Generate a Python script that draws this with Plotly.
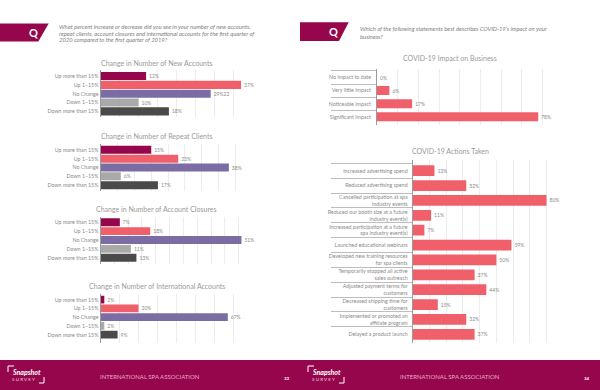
import plotly.graph_objects as go

W, H = 600, 390
FONT = "Lato"
MAROON = "#96064c"

change_cats = ["Up more than 15%", "Up 1–15%", "No Change", "Down 1–15%", "Down more than 15%"]
change_colors = [MAROON, "#f0606a", "#7b6ca3", "#a9a9a9", "#4a4a4a"]

new_accounts = [12, 37, 29, 10, 18]
new_accounts_text = ["12%", "37%", "29%22", "10%", "18%"]
repeat_clients = [15, 23, 38, 6, 17]
repeat_clients_text = ["15%", "23%", "38%", "6%", "17%"]
closures = [7, 18, 51, 11, 13]
closures_text = ["7%", "18%", "51%", "11%", "13%"]
international = [2, 20, 67, 2, 9]
international_text = ["2%", "20%", "67%", "2%", "9%"]

impact_cats = ["No impact to date", "Very little impact", "Noticeable impact", "Significant impact"]
impact_vals = [0, 6, 17, 78]
impact_text = ["0%", "6%", "17%", "78%"]

action_cats = [
    "Increased advertising spend", "Reduced advertising spend",
    "Cancelled participation at spa<br>industry events",
    "Reduced our booth size at a future<br>industry event(s)",
    "Increased participation at a future<br>spa industry event(s)",
    "Launched educational webinars",
    "Developed new training resources<br>for spa clients",
    "Temporarily stopped all active<br>sales outreach",
    "Adjusted payment terms for<br>customers",
    "Decreased shipping time for<br>customers",
    "Implemented or promoted an<br>affiliate program",
    "Delayed a product launch",
]
action_vals = [13, 32, 80, 11, 7, 59, 50, 37, 44, 15, 32, 37]
action_text = ["13%", "32%", "80%", "11%", "7%", "59%", "50%", "37%", "44%", "15%", "32%", "37%"]

left_question = [
    "What percent increase or decrease did you see in your number of new accounts,",
    "repeat clients, account closures and international accounts for the first quarter of",
    "2020 compared to the first quarter of 2019?",
]
right_question = [
    "Which of the following statements best describes COVID-19’s impact on your",
    "business?",
]


def px(x):
    return x / W


def py(y):
    return 1 - y / H


fig = go.Figure()
axis_specs = [
    # cats, vals, text, colors, x0, x1, top, bottom, xmax, dtick, yrange, bargap, ticklen, standoff
    (change_cats, new_accounts, new_accounts_text, change_colors, 100.5, 252.5, 70.3, 117.1, 40, 5, [4.65, -0.65], 0.08, 0, 0),
    (change_cats, repeat_clients, repeat_clients_text, change_colors, 100.5, 252.5, 144.1, 190.9, 45, 5, [4.65, -0.65], 0.1, 0, 0),
    (change_cats, closures, closures_text, change_colors, 100.5, 252.5, 216.5, 263.5, 55, 5, [4.65, -0.65], 0.1, 0, 0),
    (change_cats, international, international_text, change_colors, 100.5, 252.5, 294, 343, 80, 10, [4.95, -0.65], 0.12, 0, 0),
    (impact_cats, impact_vals, impact_text, ["#f0606a"] * 4, 377, 563, 69.4, 124.9, 90, 10, [3.62, -0.62], 0.31, 45, 4),
    (action_cats, action_vals, action_text, ["#f0606a"] * 12, 412.7, 563.3, 160.3, 343.2, 90, 10, [11.6, -0.7], 0.28, 81, 3),
]

layout_axes = {}
for i, (cats, vals, text, colors, x0, x1, top, bottom, xmax, dtick, yrange, gap, ticklen, standoff) in enumerate(axis_specs, 1):
    s = "" if i == 1 else str(i)
    fig.add_trace(go.Bar(
        x=vals, y=cats, orientation="h", text=text, textposition="outside",
        textfont=dict(size=5, color="#8a8a8a", family=FONT), cliponaxis=False,
        marker=dict(color=colors, line=dict(width=0)), width=1 - gap,
        hoverinfo="skip", xaxis=f"x{s}", yaxis=f"y{s}",
    ))
    layout_axes[f"xaxis{s}"] = dict(
        domain=[px(x0), px(x1)], anchor=f"y{s}", range=[0, xmax], dtick=dtick,
        showgrid=True, gridcolor="#ececec", gridwidth=1, showticklabels=False,
        zeroline=False, ticks="", showline=False,
    )
    yaxis = dict(
        domain=[py(bottom), py(top)], anchor=f"x{s}", type="category", range=yrange,
        categoryorder="array", categoryarray=cats, dtick=1, automargin=False,
        showline=True, linecolor="#9a9a9a", linewidth=1, showgrid=False, zeroline=False,
        tickfont=dict(size=5.3, color="#8a8a8a", family=FONT),
    )
    if ticklen:
        yaxis.update(ticks="outside", tickson="boundaries", ticklen=ticklen, tickcolor="#bdbdbd",
                     tickwidth=1, ticklabelstandoff=standoff)
    else:
        yaxis.update(ticks="")
    layout_axes[f"yaxis{s}"] = yaxis

shapes = []
annotations = []


def note(x, y, text, size, color, anchor="center", family=FONT):
    annotations.append(dict(
        xref="paper", yref="paper", x=px(x), y=py(y), text=text, showarrow=False,
        xanchor=anchor, yanchor="middle", font=dict(size=size, color=color, family=family),
        borderpad=0, borderwidth=0,
    ))


for x, y, t in [
    (156.7, 62.7, "Change in Number of New Accounts"),
    (156.7, 135.7, "Change in Number of Repeat Clients"),
    (156.7, 209, "Change in Number of Account Closures"),
    (156.7, 285.7, "Change in Number of International Accounts"),
    (450, 57.7, "COVID-19 Impact on Business"),
    (450, 150.7, "COVID-19 Actions Taken"),
]:
    note(x, y, t, 7, "#9a9a9a")

# Question banners
for x_off, t, b, xt, xb in [(0, 23.4, 41.6, 48.7, 38.3), (300, 22.3, 41, 348.7, 339)]:
    path = f"M {px(x_off)} {py(t)} L {px(xt)} {py(t)} L {px(xb)} {py(b)} L {px(x_off)} {py(b)} Z"
    shapes.append(dict(type="path", xref="paper", yref="paper", path=path, fillcolor=MAROON, line=dict(width=0)))
    note(x_off + 33, (t + b) / 2, "<b>Q</b>", 11, "white")

for y, line in zip([27, 33.5, 40], left_question):
    note(59, y, f"<i>{line}</i>", 5.85, "#808080", "left")
for y, line in zip([29, 36], right_question):
    note(360, y, f"<i>{line}</i>", 5.85, "#808080", "left")

# Footers
shapes.append(dict(type="rect", xref="paper", yref="paper", x0=0, x1=1, y0=0, y1=py(360),
                   fillcolor=MAROON, line=dict(width=0), layer="below"))
for x_off, page in [(0, "33"), (300, "34")]:
    note(x_off + 150, 376, "INTERNATIONAL SPA ASSOCIATION", 6, "#e9a9c6")
    note(x_off + 287, 378.5, f"<b>{page}</b>", 4.5, "white")
    note(x_off + 12, 372, "<b><i>Snapshot</i></b>", 7, "white", "left")
    note(x_off + 12, 379, "S U R V E Y", 4.6, "#f3d3e2", "left")
    for pts in [[(8, 372), (8, 366), (14, 366)], [(44, 377), (44, 383), (39, 383)]]:
        path = "M " + " L ".join(f"{px(x_off + a)} {py(b)}" for a, b in pts)
        shapes.append(dict(type="path", xref="paper", yref="paper", path=path,
                           line=dict(color="white", width=1)))

fig.update_layout(
    width=W, height=H, margin=dict(l=0, r=0, t=0, b=0), showlegend=False,
    paper_bgcolor="white", plot_bgcolor="white", shapes=shapes, annotations=annotations,
    barmode="overlay", font=dict(family=FONT), **layout_axes,
)
fig.write_html("out.html", config={"displayModeBar": False},
               post_script="document.body.style.margin='0';document.documentElement.style.overflow='hidden';")
